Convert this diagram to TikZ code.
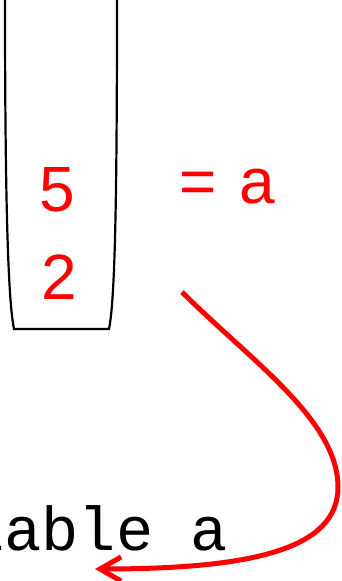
\documentclass[tikz,border=0pt]{standalone}
\usepackage{fontspec}
\setmainfont{Liberation Sans}
\newfontfamily\monofnt{Liberation Mono}
\usetikzlibrary{arrows.meta}
\definecolor{pred}{RGB}{255,0,0}
\tikzset{
  val/.style={text=pred, font=\fontsize{64}{64}\selectfont, inner sep=0pt, anchor=base},
  cup/.style={draw=black, line width=2.2pt},
  link/.style={draw=pred, line width=5pt, -{Straight Barb[length=21pt,width=24pt,line width=5pt]}},
  code/.style={font=\monofnt\fontsize{62}{62}\selectfont, inner sep=0pt, anchor=base west}
}
\begin{document}
\begin{tikzpicture}[x=1pt,y=-1pt]
\useasboundingbox (0,0) rectangle (341,581);
\clip (0,0) rectangle (341,581);
\draw[cup] (5,-2) .. controls (5,200) and (8,300) .. (14,329) -- (109,329) .. controls (115,300) and (117,200) .. (117,-2);
\node[val] (five) at (57,211) {5};
\node[val] (two) at (59,299) {2};
\node[val] (eq) at (198,203) {=};
\node[val] (a) at (257,203) {a};
\node[code] (var) at (-144.4,550) {variable a};
\coordinate (s) at (182,292);
\coordinate (m) at (338,487);
\coordinate (e) at (95,569);
\draw[link] (s) .. controls (250,360) and (338,420) .. (m) .. controls (338,550) and (250,569) .. (e);
\end{tikzpicture}
\end{document}
